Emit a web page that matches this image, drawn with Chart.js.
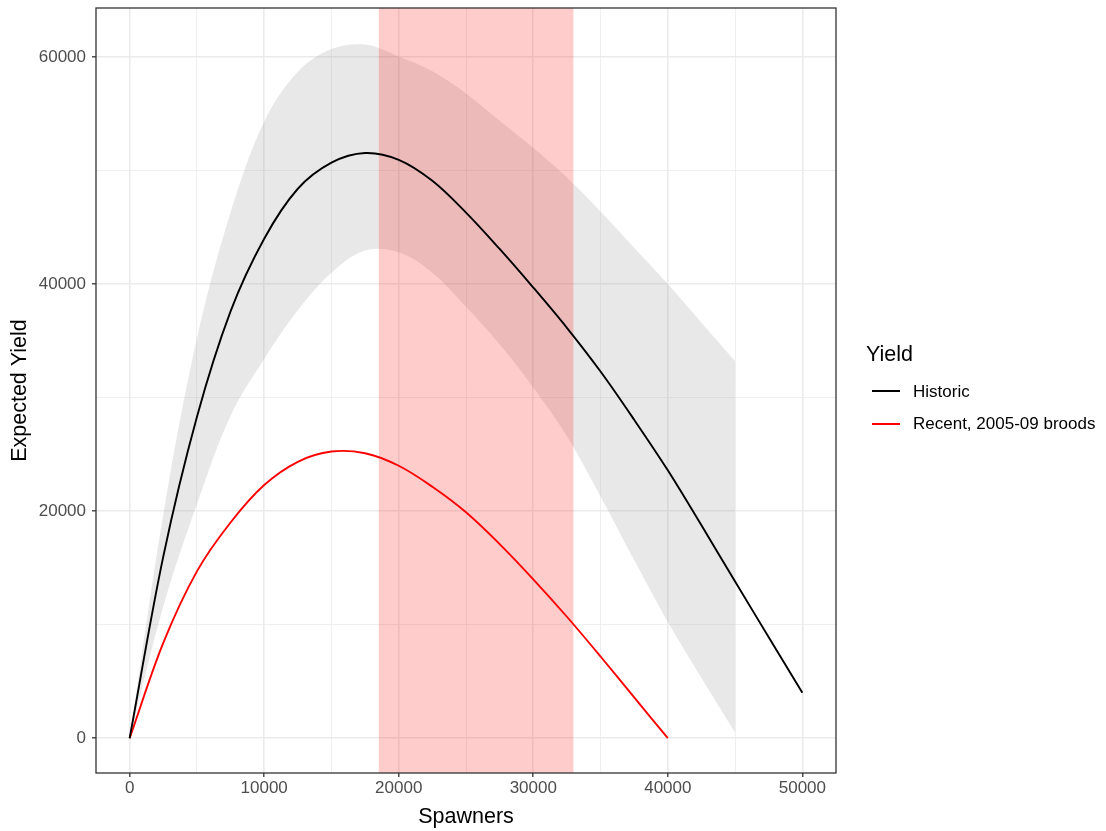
<!DOCTYPE html>
<html>
<head>
<meta charset="utf-8">
<script src="https://cdn.jsdelivr.net/npm/chart.js@4.4.1/dist/chart.umd.min.js"></script>
<style>
html,body{margin:0;padding:0;background:#ffffff;}
#wrap{position:relative;width:1106px;height:831px;overflow:hidden;}
canvas{display:block;}
.lg{position:absolute;font-family:"Liberation Sans",Arial,sans-serif;color:#000;white-space:nowrap;}
.key{position:absolute;height:2px;width:28px;}
</style>
</head>
<body>
<div id="wrap">
<canvas id="c" width="1106" height="831"></canvas>
<div class="lg" id="lgTitle" style="left:866px;top:340.5px;font-size:21.5px;line-height:26px;"></div>
<div class="key" id="key0" style="left:872px;top:389.5px;"></div>
<div class="lg" id="lab0" style="left:913px;top:381.9px;font-size:17px;line-height:20px;"></div>
<div class="key" id="key1" style="left:872px;top:422.7px;"></div>
<div class="lg" id="lab1" style="left:913px;top:414.2px;font-size:17px;line-height:20px;"></div>
</div>
<script>
// ---------- data ----------
const spawnersHistoric = [0, 2500, 5000, 7500, 10000, 12500, 15000, 17500, 20000, 22500, 25000, 27500, 30000, 32500, 35000, 37500, 40000, 42500, 45000, 47500, 50000];
const yieldHistoric    = [0, 16000, 28300, 37600, 44000, 48400, 50700, 51550, 50950, 49100, 46300, 43100, 39700, 36150, 32300, 28050, 23600, 18750, 13800, 8900, 4000];

const spawnersRecent = [0, 2500, 5000, 7500, 10000, 12500, 15000, 17500, 20000, 22500, 25000, 27500, 30000, 32500, 35000, 37500, 40000];
const yieldRecent    = [0, 8400, 14700, 19000, 22300, 24350, 25250, 25100, 24000, 22150, 19900, 17100, 14000, 10700, 7200, 3600, 0];

const spawnersCI = [0, 2500, 5000, 7500, 10000, 12500, 15000, 17500, 20000, 22500, 25000, 27500, 30000, 32500, 35000, 37500, 40000, 42500, 45000];
const ciUpper    = [0, 19700, 35200, 46300, 54300, 58700, 60700, 61100, 60050, 58750, 56800, 54400, 52000, 49400, 46400, 43200, 40000, 36600, 33200];
const ciLower    = [0, 11600, 20600, 28400, 33400, 37700, 41000, 42950, 42800, 41000, 38000, 34700, 30900, 26600, 21300, 15700, 10250, 5300, 500];

const goalRange = [18500, 33000];   // shaded spawner range

const seriesNames = ['Historic', 'Recent, 2005-09 broods'];
const seriesColors = ['#000000', '#FF0000'];
const legendTitle = 'Yield';
const xTitle = 'Spawners';
const yTitle = 'Expected Yield';

const xLimits = [-2500, 52500];
const yLimits = [-3063, 64321];
const xTickValues = [0, 5000, 10000, 15000, 20000, 25000, 30000, 35000, 40000, 45000, 50000];
const xMajorTicks = [0, 10000, 20000, 30000, 40000, 50000];
const xTickLabels = ['0', '10000', '20000', '30000', '40000', '50000'];
const yTickValues = [0, 10000, 20000, 30000, 40000, 50000, 60000];
const yMajorTicks = [0, 20000, 40000, 60000];
const yTickLabels = ['0', '20000', '40000', '60000'];

// ---------- helpers ----------
const pts = (xs, ys) => xs.map((x, i) => ({x: x, y: ys[i]}));
const FONT = "'Liberation Sans', Arial, sans-serif";
const TENSION = 0.35;

document.getElementById('lgTitle').textContent = legendTitle;
document.getElementById('lab0').textContent = seriesNames[0];
document.getElementById('lab1').textContent = seriesNames[1];
document.getElementById('key0').style.background = seriesColors[0];
document.getElementById('key1').style.background = seriesColors[1];

const panelBorder = {
  id: 'panelBorder',
  afterDraw(chart) {
    const a = chart.chartArea, ctx = chart.ctx;
    ctx.save();
    ctx.strokeStyle = '#333333';
    ctx.lineWidth = 1.3;
    ctx.strokeRect(a.left, a.top, a.right - a.left, a.bottom - a.top);
    ctx.restore();
  }
};

function gridOpts(majors) {
  const isMajor = c => c.tick && majors.includes(c.tick.value);
  return {
    color: '#EBEBEB',
    lineWidth: c => isMajor(c) ? 1.6 : 0.8,
    drawTicks: true,
    tickLength: 4,
    tickColor: c => isMajor(c) ? '#333333' : 'rgba(0,0,0,0)',
    tickWidth: c => isMajor(c) ? 1.3 : 0
  };
}

new Chart(document.getElementById('c'), {
  type: 'line',
  data: {
    datasets: [
      {
        label: 'ci-upper',
        data: pts(spawnersCI, ciUpper),
        borderWidth: 0,
        borderColor: 'rgba(0,0,0,0)',
        backgroundColor: 'rgba(150,150,150,0.22)',
        fill: '+1',
        pointRadius: 0,
        tension: TENSION,
        order: 5
      },
      {
        label: 'ci-lower',
        data: pts(spawnersCI, ciLower),
        borderWidth: 0,
        borderColor: 'rgba(0,0,0,0)',
        fill: false,
        pointRadius: 0,
        tension: TENSION,
        order: 5
      },
      {
        label: 'goal',
        data: pts(goalRange, [yLimits[1], yLimits[1]]),
        borderWidth: 0,
        borderColor: 'rgba(0,0,0,0)',
        backgroundColor: 'rgba(255,0,0,0.2)',
        fill: 'start',
        pointRadius: 0,
        tension: 0,
        order: 4
      },
      {
        label: seriesNames[1],
        data: pts(spawnersRecent, yieldRecent),
        borderColor: seriesColors[1],
        borderWidth: 1.9,
        fill: false,
        pointRadius: 0,
        tension: TENSION,
        order: 2
      },
      {
        label: seriesNames[0],
        data: pts(spawnersHistoric, yieldHistoric),
        borderColor: seriesColors[0],
        borderWidth: 1.9,
        fill: false,
        pointRadius: 0,
        tension: TENSION,
        order: 1
      }
    ]
  },
  options: {
    responsive: false,
    animation: false,
    devicePixelRatio: 1,
    layout: {padding: {left: 0, right: 270, top: 8, bottom: 0}},
    plugins: {legend: {display: false}, tooltip: {enabled: false}},
    scales: {
      x: {
        type: 'linear',
        min: xLimits[0],
        max: xLimits[1],
        afterBuildTicks: s => { s.ticks = xTickValues.map(v => ({value: v})); },
        afterFit: s => { s.height = 58; s.paddingLeft = 0; s.paddingRight = 0; },
        border: {display: false},
        grid: gridOpts(xMajorTicks),
        ticks: {
          autoSkip: false,
          maxRotation: 0,
          padding: 1,
          color: '#4D4D4D',
          font: {family: FONT, size: 17},
          callback: v => { const i = xMajorTicks.indexOf(v); return i >= 0 ? xTickLabels[i] : ''; }
        },
        title: {display: true, text: xTitle, color: '#000', font: {family: FONT, size: 21.5}, padding: {top: 0, bottom: 1}}
      },
      y: {
        type: 'linear',
        min: yLimits[0],
        max: yLimits[1],
        afterBuildTicks: s => { s.ticks = yTickValues.map(v => ({value: v})); },
        afterFit: s => { s.width = 96; s.paddingTop = 0; s.paddingBottom = 0; },
        border: {display: false},
        grid: gridOpts(yMajorTicks),
        ticks: {
          autoSkip: false,
          padding: 6,
          color: '#4D4D4D',
          font: {family: FONT, size: 17},
          callback: v => { const i = yMajorTicks.indexOf(v); return i >= 0 ? yTickLabels[i] : ''; }
        },
        title: {display: true, text: yTitle, color: '#000', font: {family: FONT, size: 21.5}, padding: {top: 7, bottom: 0}}
      }
    }
  },
  plugins: [panelBorder]
});
</script>
</body>
</html>
